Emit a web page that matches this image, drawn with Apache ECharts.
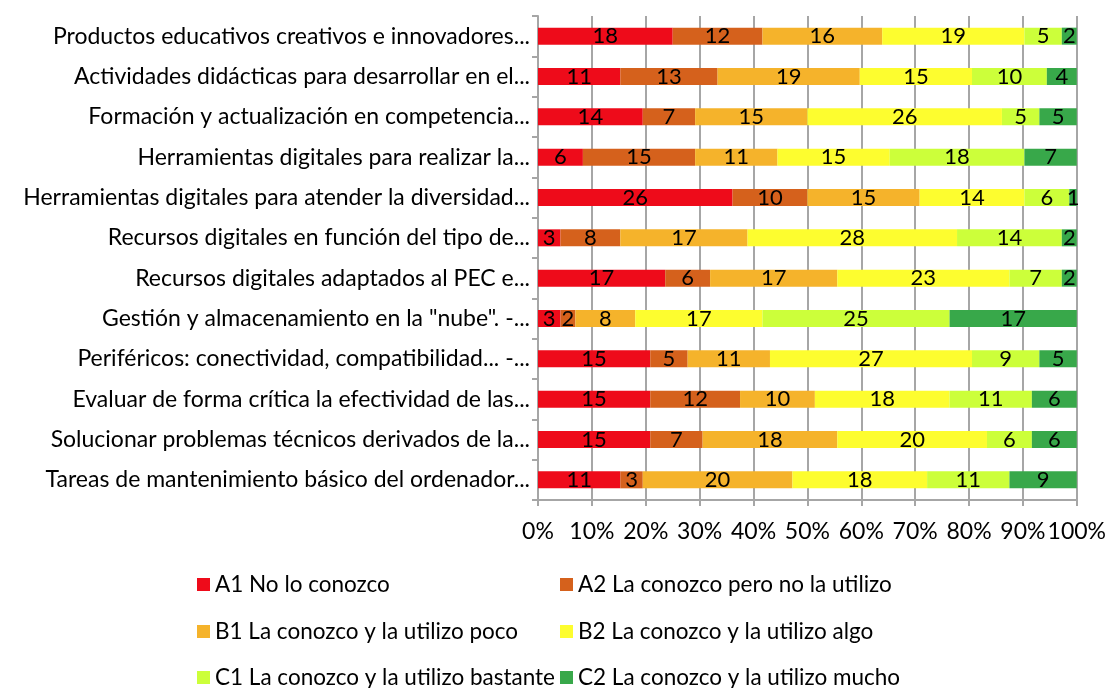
<!DOCTYPE html>
<html>
<head>
<meta charset="utf-8">
<script src="https://cdn.jsdelivr.net/npm/echarts@6/dist/echarts.min.js"></script>
<style>
  html, body { margin: 0; padding: 0; background: #fff; }
  #chart { width: 1109px; height: 688px; }
</style>
</head>
<body>
<div id="chart"></div>
<script>
// categorías (de arriba a abajo)
var categories = [
  'Productos educativos creativos e innovadores...',
  'Actividades didácticas para desarrollar en el...',
  'Formación y actualización en competencia...',
  'Herramientas digitales para realizar la...',
  'Herramientas digitales para atender la diversidad...',
  'Recursos digitales en función del tipo de...',
  'Recursos digitales adaptados al PEC e...',
  'Gestión y almacenamiento en la "nube". -...',
  'Periféricos: conectividad, compatibilidad... -...',
  'Evaluar de forma crítica la efectividad de las...',
  'Solucionar problemas técnicos derivados de la...',
  'Tareas de mantenimiento básico del ordenador...'
];

// respuestas por nivel
var a1 = [18, 11, 14, 6, 26, 3, 17, 3, 15, 15, 15, 11];
var a2 = [12, 13, 7, 15, 10, 8, 6, 2, 5, 12, 7, 3];
var b1 = [16, 19, 15, 11, 15, 17, 17, 8, 11, 10, 18, 20];
var b2 = [19, 15, 26, 15, 14, 28, 23, 17, 27, 18, 20, 18];
var c1 = [5, 10, 5, 18, 6, 14, 7, 25, 9, 11, 6, 11];
var c2 = [2, 4, 5, 7, 1, 2, 2, 17, 5, 6, 6, 9];

var seriesNames = [
  'A1 No lo conozco',
  'A2 La conozco pero no la utilizo',
  'B1 La conozco y la utilizo poco',
  'B2 La conozco y la utilizo algo',
  'C1 La conozco y la utilizo bastante',
  'C2 La conozco y la utilizo mucho'
];
var colors = ['#ee0b1a', '#d5611c', '#f5b32b', '#fdfd2f', '#ccff3a', '#38a84a'];
var xTicks = [0, 10, 20, 30, 40, 50, 60, 70, 80, 90, 100];

var FONT = 'Lato';
var FS = 23;
var counts = [a1, a2, b1, b2, c1, c2];
var totals = categories.map(function (c, i) {
  return counts.reduce(function (s, arr) { return s + arr[i]; }, 0);
});

var chart = echarts.init(document.getElementById('chart'));

var series = counts.map(function (arr, k) {
  return {
    name: seriesNames[k],
    type: 'bar',
    stack: 'total',
    barWidth: 17,
    itemStyle: { color: colors[k] },
    label: {
      show: true,
      color: '#000',
      fontFamily: FONT,
      fontSize: 22,
      formatter: function (p) { return p.data.count; }
    },
    data: arr.map(function (v, i) {
      return { value: v / totals[i] * 100, count: v };
    })
  };
});

// leyenda en dos columnas, tres filas
var legendPos = [[197, 573], [560, 573], [197, 620], [560, 620], [197, 666], [560, 666]];
var legends = seriesNames.map(function (name, k) {
  return {
    left: legendPos[k][0], top: legendPos[k][1],
    padding: 0,
    itemWidth: 13, itemHeight: 13, icon: 'rect',
    textStyle: { fontFamily: FONT, fontSize: 22.5, color: '#000' },
    data: [name]
  };
});

chart.setOption({
  animation: false,
  textStyle: { fontFamily: FONT },
  grid: { left: 538, right: 30, top: 16, bottom: 188 },
  xAxis: {
    type: 'value',
    min: 0,
    max: 100,
    interval: 10,
    axisLine: { show: true, lineStyle: { color: '#a6a6a6', width: 2 } },
    axisTick: { show: true, length: 6, lineStyle: { color: '#a6a6a6', width: 2 } },
    splitLine: { show: true, lineStyle: { color: '#a6a6a6', width: 2 } },
    axisLabel: {
      color: '#000',
      fontFamily: FONT,
      fontSize: FS,
      margin: 20,
      formatter: function (v) { return xTicks.indexOf(v) >= 0 ? v + '%' : ''; }
    }
  },
  yAxis: {
    type: 'category',
    data: categories,
    inverse: true,
    axisLine: { show: true, lineStyle: { color: '#a6a6a6', width: 2 } },
    axisTick: { show: true, length: 6, lineStyle: { color: '#a6a6a6', width: 2 } },
    axisLabel: { color: '#000', fontFamily: FONT, fontSize: FS, margin: 8 }
  },
  legend: legends,
  series: series
});
</script>
</body>
</html>
